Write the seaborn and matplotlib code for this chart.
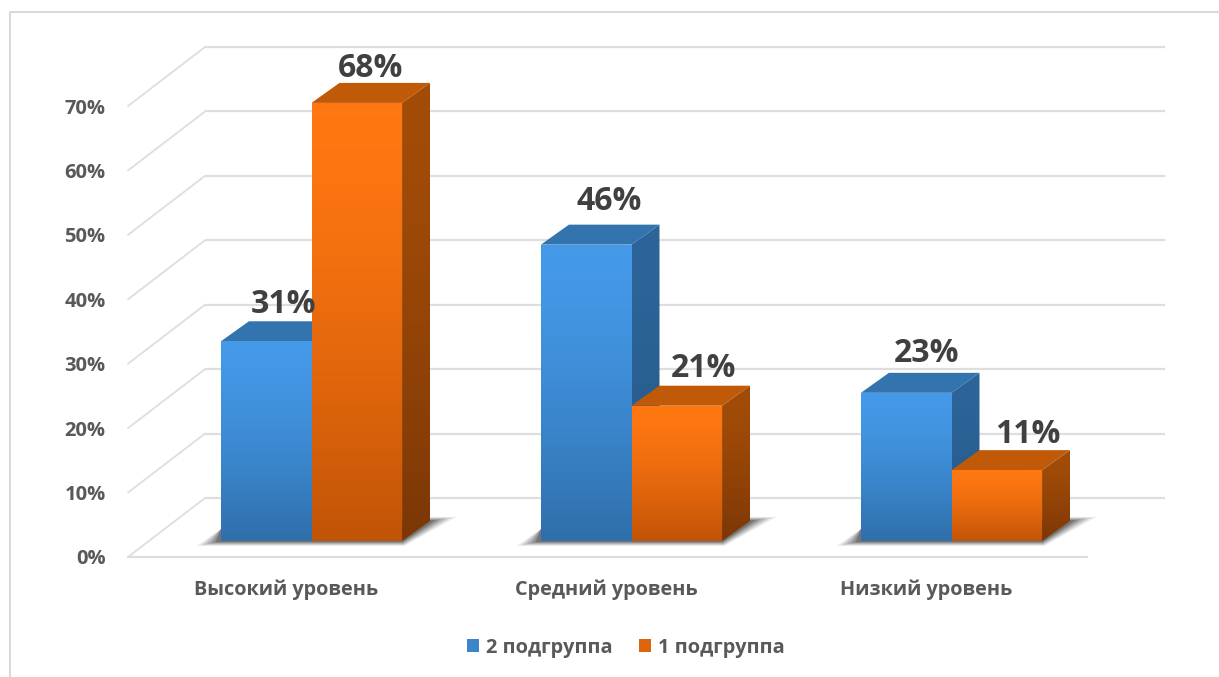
import matplotlib
matplotlib.use("Agg")
import matplotlib.pyplot as plt
from matplotlib.colors import LinearSegmentedColormap
from matplotlib.patches import Polygon
from matplotlib.transforms import ScaledTranslation
import numpy as np
import pandas as pd
import seaborn as sns

W, H = 1219, 677

categories = ["Высокий уровень", "Средний уровень", "Низкий уровень"]
group_names = ["2 подгруппа", "1 подгруппа"]
group2_values = [31, 46, 23]
group1_values = [68, 21, 11]
y_ticks = [0, 10, 20, 30, 40, 50, 60, 70]

# (dx, dy) of each value label from the middle of the bar top, pixels
label_offsets = [[(17, -37), (14, -34)], [(23, -43), (27, -37)], [(20, -39), (31, -36)]]

# front top, front bottom, side top, side bottom, roof
shades = {
    group_names[0]: ("#4499E8", "#2F6FAB", "#2D659B", "#24557F", "#3373AE"),
    group_names[1]: ("#FF7711", "#C25407", "#A34C08", "#7C3705", "#C05A08"),
}
palette = {group_names[0]: "#3D85C8", group_names[1]: "#DE650C"}

DEPTH_X, DEPTH_Y = 28, 20
GRID = "#DEDEDE"
TEXT = "#595959"

sns.set_theme(style="white")
plt.rcParams["font.family"] = ["Open Sans", "DejaVu Sans"]
plt.rcParams["font.weight"] = "bold"

df = pd.DataFrame({
    "category": categories * 2,
    "group": [group_names[0]] * 3 + [group_names[1]] * 3,
    "value": group2_values + group1_values,
})

fig = plt.figure(figsize=(W / 100, H / 100), dpi=100, facecolor="white")
# helper axes in image pixels, y going down
pix = fig.add_axes([0, 0, 1, 1], zorder=0)
pix.set_xlim(0, W)
pix.set_ylim(H, 0)
pix.axis("off")

ax = fig.add_axes([151.5 / W, (H - 541) / H, 960 / W, 515.4 / H], zorder=1)
ax.patch.set_alpha(0)
sns.barplot(data=df, x="category", y="value", hue="group", order=categories,
            hue_order=group_names, palette=palette, width=0.566, gap=0,
            saturation=1, ax=ax, zorder=3, edgecolor="none")
ax.set_xlim(-0.5, 2.5)
ax.set_ylim(0, 80)
ax.set_autoscale_on(False)
sns.despine(ax=ax, left=True, bottom=True, top=True, right=True)
ax.set_xlabel("")
ax.set_ylabel("")


def to_px(x, y):
    xd, yd = ax.transData.transform((x, y))
    return xd, H - yd


def shaded_poly(points, top, bottom, z):
    pts = np.array(points)
    cmap = LinearSegmentedColormap.from_list("s", [top, bottom])
    clip = Polygon(pts, closed=True, transform=pix.transData, fc="none", ec="none")
    ax.add_patch(clip)
    # stays light longer near the top, like the office bevel shading
    ramp = np.linspace(0, 1, 64).reshape(-1, 1) ** 1.5
    im = ax.imshow(ramp, cmap=cmap, aspect="auto",
                   extent=(pts[:, 0].min(), pts[:, 0].max(), pts[:, 1].max(), pts[:, 1].min()),
                   transform=pix.transData, origin="upper", zorder=z, interpolation="bilinear")
    im.set_clip_path(clip)


# back wall and floor lines
for v in y_ticks + [80]:
    _, yb = to_px(0, v)
    yb -= 43
    pix.plot([205, 1165], [yb, yb], color=GRID, lw=1.6, solid_capstyle="butt")
    if v < 80:
        pix.plot([128, 205], [yb + 59, yb], color=GRID, lw=1.3)
_, y0 = to_px(0, 0)
pix.plot([128, 1087], [y0 + 16, y0 + 16], color=GRID, lw=1.6)

# outer chart frame, only top and left are in the crop
pix.plot([10, 10, W], [H, 12, 12], color="#D9D9D9", lw=1.5)

# boxes: side and roof are built from the bars seaborn drew
for g, (name, container) in enumerate(zip(group_names, ax.containers)):
    front_top, front_bot, side_top, side_bot, roof = shades[name]
    base_z = 3 + g * 2
    for c, bar in enumerate(container.patches):
        x0 = bar.get_x()
        x1 = x0 + bar.get_width()
        h = bar.get_height()
        lx, ty = to_px(x0, h)
        rx, by = to_px(x1, 0)
        bar.set_zorder(base_z)
        shaded_poly([(lx, ty), (rx, ty), (rx, by), (lx, by)], front_top, front_bot, base_z + 0.2)
        shaded_poly([(rx, ty), (rx + DEPTH_X, ty - DEPTH_Y), (rx + DEPTH_X, by - DEPTH_Y), (rx, by)],
                    side_top, side_bot, base_z - 0.2)
        ax.add_patch(Polygon([(lx, ty), (lx + DEPTH_X, ty - DEPTH_Y), (rx + DEPTH_X, ty - DEPTH_Y), (rx, ty)],
                             closed=True, transform=pix.transData, fc=roof, ec="none", zorder=base_z - 0.1))
        dx, dy = label_offsets[c][g]
        pix_x, pix_y = (lx + rx) / 2 + dx, ty + dy
        ax.text(pix_x, pix_y, f"{h:.0f}%", transform=pix.transData, ha="center", va="center",
                fontsize=23, color="#404040", zorder=10)

# soft floor shadow under each cluster
left = ax.containers[0].patches
right = ax.containers[1].patches
for lb, rb in zip(left, right):
    lx, by = to_px(lb.get_x(), 0)
    rx, _ = to_px(rb.get_x() + rb.get_width(), 0)
    for grow, alpha in [(1.0, 0.10), (0.8, 0.14), (0.6, 0.18), (0.4, 0.24), (0.22, 0.3)]:
        pts = [(lx - 24 * grow, by + 5 * grow), (lx, by - 12),
               (rx + DEPTH_X, by - DEPTH_Y - 4 * grow), (rx + DEPTH_X + 26 * grow, by - DEPTH_Y - 4 * grow),
               (rx + 2 * grow, by + 5 * grow)]
        ax.add_patch(Polygon(pts, closed=True, transform=pix.transData, fc="#303030", ec="none",
                             alpha=alpha, zorder=2, clip_on=False))

ax.set_yticks(y_ticks)
ax.set_yticklabels([f"{v}%" for v in y_ticks])
ax.tick_params(axis="y", length=0, pad=33, labelsize=14.5, labelcolor=TEXT)
ax.tick_params(axis="x", length=0, pad=27.5, labelsize=14.3, labelcolor=TEXT)
# labels sit on the front edge of the floor, not on the bar plane
for lbl in ax.get_yticklabels():
    lbl.set_transform(lbl.get_transform() + ScaledTranslation(0, -16 / 100, fig.dpi_scale_trans))
for lbl in ax.get_xticklabels():
    lbl.set_transform(lbl.get_transform() + ScaledTranslation(-25 / 100, 0, fig.dpi_scale_trans))

sns.move_legend(ax, "center", bbox_to_anchor=(626 / W, (H - 648) / H),
                bbox_transform=fig.transFigure, ncol=2, title=None, frameon=False,
                fontsize=14.4, labelcolor=TEXT, handlelength=0.62, handleheight=0.62,
                handletextpad=0.35, columnspacing=1.3)

fig.savefig("out.png", dpi=100)
